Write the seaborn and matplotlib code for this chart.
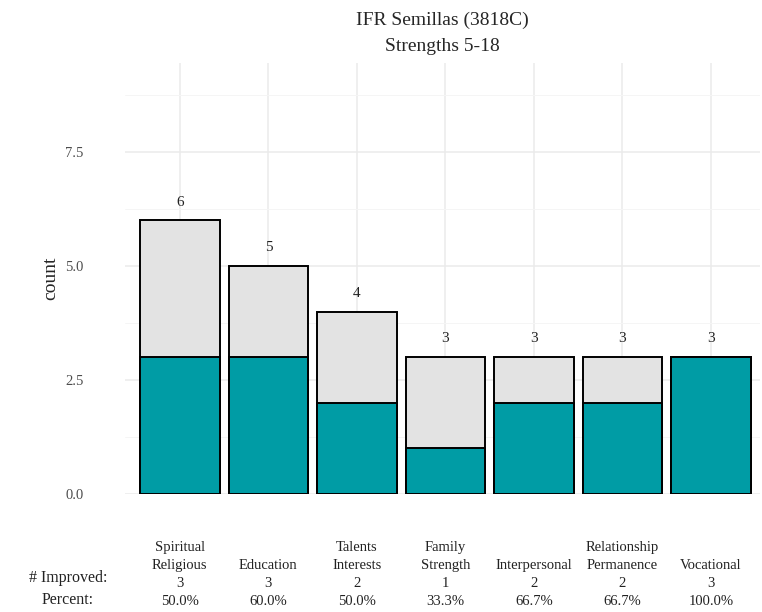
import numpy as np
import pandas as pd
import seaborn as sns
import matplotlib.pyplot as plt

categories = ["Spiritual\nReligious", "Education", "Talents\nInterests", "Family\nStrength",
              "Interpersonal", "Relationship\nPermanence", "Vocational"]
total = [6, 5, 4, 3, 3, 3, 3]
improved = [3, 3, 2, 1, 2, 2, 3]

df = pd.DataFrame({"domain": categories, "total": total, "improved": improved})
df["pct"] = df.improved / df.total * 100

sns.set_style("white")
plt.rcParams['font.family'] = ['Liberation Serif', 'DejaVu Serif']

fig, ax = plt.subplots(figsize=(7.62, 6.12), dpi=100)
fig.subplots_adjust(left=0.164, right=0.997, top=0.897, bottom=0.193)

sns.barplot(data=df, x="domain", y="total", order=categories, color='#E3E3E3',
            width=0.9, edgecolor='black', linewidth=1.4, saturation=1, ax=ax)
sns.barplot(data=df, x="domain", y="improved", order=categories, color='#009CA5',
            width=0.9, edgecolor='black', linewidth=1.4, saturation=1, ax=ax)

# grid behind the bars (seaborn switches off the x grid on categorical axes)
ax.set_axisbelow(True)
ax.set_yticks([1.25, 3.75, 6.25, 8.75], minor=True)
ax.grid(True, which='major', axis='both', color='#EBEBEB', linewidth=1.1)
ax.grid(True, which='minor', axis='y', color='#F5F5F5', linewidth=0.7)

for i, t in enumerate(total):
    ax.text(i, t + 0.4, str(t), ha='center', va='center', fontsize=11, color='#222222')

ax.set_xlim(-0.62, 6.55)
ax.set_ylim(0, 9.45)
ax.set_yticks([0, 2.5, 5.0, 7.5])
ax.set_yticklabels(["0.0", "2.5", "5.0", "7.5"], fontsize=10.5, color='#4D4D4D')

labels = [f"{c}\n{n}\n{p:.1f}%" for c, n, p in zip(df.domain, df.improved, df.pct)]
ax.set_xticks(range(len(categories)))
ax.set_xticklabels(labels, fontsize=10.5, va='baseline', linespacing=1.5, color='#222222')
ax.tick_params(axis='x', length=0, pad=80)
ax.tick_params(axis='y', length=0, pad=30)

ax.set_xlabel("")
ax.set_ylabel("count", fontsize=14, labelpad=4)
sns.despine(ax=ax, left=True, bottom=True)

fig.text(68 / 762, 1 - 578 / 612, "# Improved:", ha='center', va='center', fontsize=11.5, color='#222222')
fig.text(68 / 762, 1 - 600 / 612, "Percent:", ha='center', va='center', fontsize=11.5, color='#222222')

ax.set_title("IFR Semillas (3818C)\nStrengths 5-18", fontsize=14, linespacing=1.65, pad=9)

fig.savefig("out.png", dpi=100)
